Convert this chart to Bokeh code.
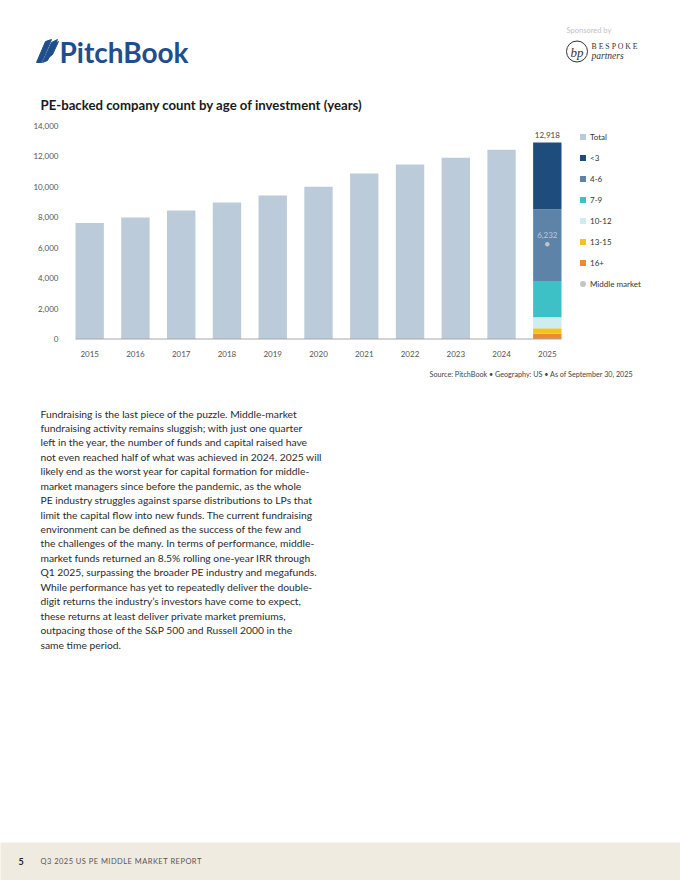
from bokeh.plotting import figure
from bokeh.models import (Range1d, FixedTicker, Legend, LegendItem, ColumnDataSource,
                          NumeralTickFormatter)
from bokeh.layouts import column
from bokeh.core.properties import value
from bokeh.embed import file_html
from bokeh.resources import INLINE

# ---------------- data ----------------
years = ["2015", "2016", "2017", "2018", "2019", "2020", "2021", "2022", "2023", "2024", "2025"]
total_counts = [7630, 7980, 8440, 8970, 9430, 10000, 10880, 11470, 11910, 12440, 12918]
age_groups = ["<3", "4-6", "7-9", "10-12", "13-15", "16+"]
age_counts_2025 = [4383, 4718, 2389, 724, 355, 349]
middle_market_2025 = 6232
y_ticks = [0, 2000, 4000, 6000, 8000, 10000, 12000, 14000]

age_colors = ["#1E4C7C", "#5E83A8", "#3DC1C6", "#CDEDF0", "#F5C31C", "#EA8A32"]
total_color = "#BCCBDA"
mm_color = "#C4C4C4"

body_lines = [
    "Fundraising is the last piece of the puzzle. Middle-market",
    "fundraising activity remains sluggish; with just one quarter",
    "left in the year, the number of funds and capital raised have",
    "not even reached half of what was achieved in 2024. 2025 will",
    "likely end as the worst year for capital formation for middle-",
    "market managers since before the pandemic, as the whole",
    "PE industry struggles against sparse distributions to LPs that",
    "limit the capital flow into new funds. The current fundraising",
    "environment can be defined as the success of the few and",
    "the challenges of the many. In terms of performance, middle-",
    "market funds returned an 8.5% rolling one-year IRR through",
    "Q1 2025, surpassing the broader PE industry and megafunds.",
    "While performance has yet to repeatedly deliver the double-",
    "digit returns the industry\u2019s investors have come to expect,",
    "these returns at least deliver private market premiums,",
    "outpacing those of the S&P 500 and Russell 2000 in the",
    "same time period.",
]

FONT = "Lato"
W = 680
BAR_W = 0.62


def canvas(top, bottom, bg="white"):
    p = figure(width=W, height=bottom - top, x_range=Range1d(0, W),
               y_range=Range1d(bottom, top), output_backend="svg",
               toolbar_location=None, min_border=0, title=None,
               x_axis_location=None, y_axis_location=None,
               outline_line_color=None, background_fill_color=bg,
               border_fill_color=bg)
    p.grid.visible = False
    return p


def txt(p, x, y, s, size, color="#333333", style="normal", align="left",
        baseline="middle", font=FONT):
    p.text(x=[x], y=[y], text=[s], text_font=value(font), text_font_size=size,
           text_color=color, text_font_style=style, text_align=align,
           text_baseline=baseline)


# ---------------- header ----------------
hdr = canvas(0, 115)
feather_xs = [[36, 45, 51, 41], [42, 51, 57, 47], [47, 53, 58, 52]]
feather_ys = [[62, 41, 39, 62], [62, 42, 39, 60], [58, 44, 41, 54]]
hdr.patches(feather_xs, feather_ys, fill_color="#1F4E8C", line_color="#1F4E8C")
txt(hdr, 59, 51, "PitchBook", "28px", color="#1F4E8C", style="bold")
txt(hdr, 566, 30, "Sponsored by", "7.5px", color="#C2C2C2")
hdr.circle(x=[576.5], y=[51], radius=10.5, fill_color=None, line_color="#333333",
           line_width=1)
txt(hdr, 576.5, 51.5, "bp", "13px", color="#333333", style="italic", align="center",
    font="Liberation Serif")
txt(hdr, 591, 46, "B E S P O K E", "7.8px", color="#333333", font="Liberation Serif")
txt(hdr, 591, 55.5, "partners", "9.5px", color="#333333", style="italic",
    font="Liberation Serif")
txt(hdr, 40, 104, "PE-backed company count by age of investment (years)", "13.2px",
    color="#1A1A1A", style="bold")

# ---------------- chart ----------------
C_TOP, C_BOT = 115, 365            # figure extent on the page (px)
X_L, X_R = 75, 561                 # px of the outer bar edges
Y0_PX, YMAX_PX = 338.5, 125.5      # px of 0 and 14,000
n = len(years)
sx = (n - 1 + BAR_W) / (X_R - X_L)
x_start = -BAR_W / 2 - X_L * sx
x_end = (n - 1) + BAR_W / 2 + (W - X_R) * sx
sy = y_ticks[-1] / (Y0_PX - YMAX_PX)
y_end = y_ticks[-1] + (YMAX_PX - C_TOP) * sy
y_start = -(C_BOT - Y0_PX) * sy

p = figure(width=W, height=C_BOT - C_TOP, x_range=Range1d(x_start, x_end),
           y_range=Range1d(y_start, y_end), output_backend="svg",
           toolbar_location=None, title=None, min_border=0, outline_line_color=None)
p.grid.visible = False

src_total = ColumnDataSource(dict(x=list(range(n - 1)), top=total_counts[:-1]))
p.vbar(x="x", top="top", width=BAR_W, source=src_total,
       fill_color=total_color, line_color=None)

stack_data = dict(x=[n - 1])
for g, v in zip(age_groups, age_counts_2025):
    stack_data[g] = [v]
src_stack = ColumnDataSource(stack_data)
p.vbar_stack(age_groups[::-1], x="x", width=BAR_W, source=src_stack,
             fill_color=age_colors[::-1], line_color=None)

# baseline under the bars
p.segment(x0=[-BAR_W / 2], x1=[n - 1 + BAR_W / 2], y0=[0], y1=[0],
          line_color="#A8A8A8", line_width=1)

p.scatter(x=[n - 1], y=[middle_market_2025], size=4.5, fill_color=mm_color,
          line_color=None)
p.text(x=[n - 1], y=[middle_market_2025], text=[f"{middle_market_2025:,}"],
       y_offset=-6, text_font=value(FONT), text_font_size="8px", text_color="#B9C8DA",
       text_align="center", text_baseline="bottom")
p.text(x=[n - 1], y=[total_counts[-1]], text=[f"{total_counts[-1]:,}"],
       y_offset=-4, text_font=value(FONT), text_font_size="8px", text_color="#444444",
       text_align="center", text_baseline="bottom")

yax = p.yaxis[0]
yax.fixed_location = -BAR_W / 2
yax.ticker = FixedTicker(ticks=y_ticks)
yax.formatter = NumeralTickFormatter(format="0,0")
yax.axis_line_color = None
yax.major_tick_line_color = None
yax.minor_tick_line_color = None
yax.major_label_standoff = 11
yax.major_label_text_font = FONT
yax.major_label_text_font_size = "8px"
yax.major_label_text_color = "#555555"

xax = p.xaxis[0]
xax.fixed_location = 0
xax.ticker = FixedTicker(ticks=list(range(n)))
xax.major_label_overrides = {i: y for i, y in enumerate(years)}
xax.axis_line_color = None
xax.major_tick_line_color = None
xax.minor_tick_line_color = None
xax.major_label_standoff = 6
xax.major_label_text_font = FONT
xax.major_label_text_font_size = "8px"
xax.major_label_text_color = "#555555"

# legend (proxy markers, not drawn in the plot, so swatches are small squares)
leg_labels = ["Total"] + age_groups + ["Middle market"]
leg_colors = [total_color] + age_colors + [mm_color]
leg_markers = ["square"] * (len(age_groups) + 1) + ["circle"]
items = []
for lab, col, mk in zip(leg_labels, leg_colors, leg_markers):
    r = p.scatter(x=[float("nan")], y=[float("nan")], marker=mk, size=6,
                  fill_color=col, line_color=None)
    items.append(LegendItem(label=lab, renderers=[r]))
legend = Legend(items=items, location=(575, 74), padding=0, margin=0, spacing=6,
                label_height=15, glyph_height=15, glyph_width=15, label_standoff=-3,
                label_text_font=FONT, label_text_font_size="8px",
                label_text_color="#333333", background_fill_alpha=0,
                border_line_color=None)
p.add_layout(legend)

# ---------------- text ----------------
body = canvas(365, 842)
txt(body, 640, 374, "Source: PitchBook  \u2022  Geography: US  \u2022  As of September 30, 2025",
    "7.2px", color="#444444", align="right")
line_y = [413 + 14.44 * i for i in range(len(body_lines))]
body.text(x=[40] * len(body_lines), y=line_y, text=body_lines, text_font=value(FONT),
          text_font_size="10.3px", text_color="#2B2B2B", text_baseline="middle")

# ---------------- footer ----------------
foot = canvas(842, 880, bg="#F0EBE1")
txt(foot, 18, 861, "5", "9px", color="#222222", style="bold")
txt(foot, 40, 861, "\u200a".join("Q3 2025 US PE MIDDLE MARKET REPORT"), "7.5px",
    color="#555555")

page = column(hdr, p, body, foot, spacing=0)
open("out.html", "w").write(file_html(page, INLINE))
